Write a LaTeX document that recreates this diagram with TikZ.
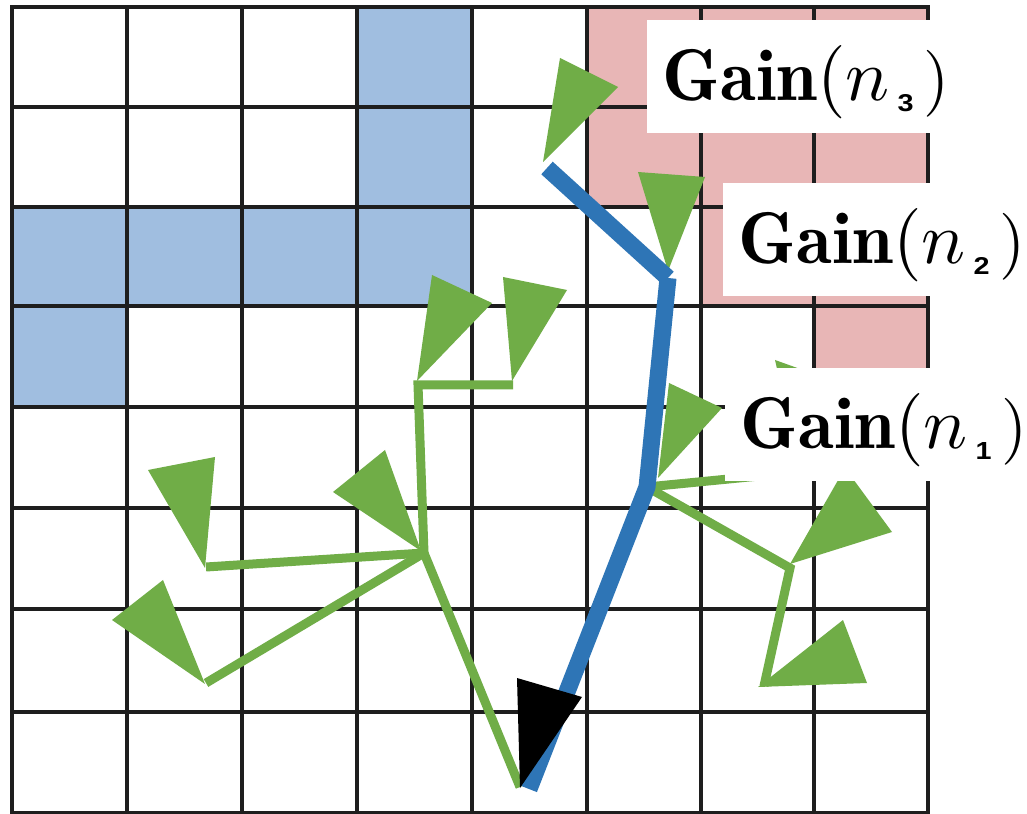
\RequirePackage{fix-cm}
\documentclass[tikz,border=0pt]{standalone}
\usepackage{fontspec}
\usepackage{graphicx}
\newfontfamily\subsansfont{Liberation Sans}
\definecolor{cellblue}{HTML}{A0BEE0}
\definecolor{cellpink}{HTML}{E8B6B6}
\definecolor{treegreen}{HTML}{70AD47}
\definecolor{pathblue}{HTML}{2E75B6}
\definecolor{gridgray}{HTML}{1E1E1E}
\newcommand{\gainlabel}[1]{\makebox[28.8mm][l]{%
  \rlap{\resizebox{22.7mm}{!}{\fontsize{10}{12}\selectfont$\mathbf{Gain}(n$}}%
  \hspace*{23.5mm}\rlap{\raisebox{-1.1mm}{\resizebox{1.6mm}{1.7mm}{\subsansfont\bfseries #1}}}%
  \hspace*{2.6mm}\rlap{\resizebox{2.6mm}{!}{\fontsize{10}{12}\selectfont$)$}}}}
\begin{document}
\begin{tikzpicture}[x=0.1mm,y=-0.1mm,
  gridline/.style={draw=gridgray,line width=0.32mm,line cap=rect},
  greenedge/.style={draw=treegreen,line width=0.9mm,line join=miter},
  greentri/.style={fill=treegreen},
  blueedge/.style={draw=pathblue,line width=1.7mm},
  rootarrow/.style={fill=black},
  gainbox/.style={fill=white,anchor=north west,inner xsep=1.6mm,inner ysep=0pt,
    text height=8.1mm,text depth=3.2mm}]
\useasboundingbox (0,0) rectangle (1027,814);
\fill[white] (0,0) rectangle (1027,814);
% occupied cells
\fill[cellblue] (357,7) rectangle (472,207);
\fill[cellblue] (12,207) rectangle (472,306);
\fill[cellblue] (12,306) rectangle (127,407);
\fill[cellpink] (587,7) rectangle (701,207);
\fill[cellpink] (701,7) rectangle (814,306);
\fill[cellpink] (814,7) rectangle (928,407);
% grid
\foreach \gx in {12,127,242,357,472,587,701,814,928} \draw[gridline] (\gx,7) -- (\gx,813);
\foreach \gy in {7,107,207,306,407,508,609,712,813} \draw[gridline] (12,\gy) -- (928,\gy);
% tree nodes
\coordinate (R) at (520,787);
\coordinate (Rb) at (529,789);
\coordinate (A) at (424,553);
\coordinate (B) at (206,567);
\coordinate (C) at (206,683);
\coordinate (D) at (418,385);
\coordinate (E) at (513,385);
\coordinate (F) at (647,487);
\coordinate (G) at (668,278);
\coordinate (H) at (547,168);
\coordinate (I) at (800,472);
\coordinate (J) at (790,568);
\coordinate (K) at (764,686);
% green tree edges
\draw[greenedge] (R) -- (A);
\draw[greenedge] (A) -- (D) -- (E);
\draw[greenedge] (B) -- (A);
\draw[greenedge] (C) -- (A);
\draw[greenedge] (F) -- (I);
\draw[greenedge] (F) -- (J) -- (K);
% heading triangles
\fill[greentri] (333,492) -- (385,450) -- (421,551) -- cycle;
\fill[greentri] (148,470) -- (215,457) -- (205,568) -- cycle;
\fill[greentri] (112,620) -- (163,580) -- (205,684) -- cycle;
\fill[greentri] (432,275) -- (492,303) -- (417,381) -- cycle;
\fill[greentri] (503,277) -- (567,290) -- (512,381) -- cycle;
\fill[greentri] (669,383) -- (722,408) -- (658,478) -- cycle;
\fill[greentri] (638,172) -- (705,177) -- (668,271) -- cycle;
\fill[greentri] (560,58) -- (618,87) -- (543,162) -- cycle;
\fill[greentri] (775,360) -- (845,385) -- (800,470) -- cycle;
\fill[greentri] (845,468) -- (892,532) -- (790,564) -- cycle;
\fill[greentri] (843,620) -- (867,683) -- (758,687) -- cycle;
% best path
\draw[blueedge] (H) -- (G);
\draw[blueedge,line join=round] (G) -- (F) -- (Rb);
\fill[rootarrow] (517,678) -- (582,697) -- (520,788) -- cycle;
% labels
\node[gainbox] (g3) at (646,19) {\gainlabel{3}};
\node[gainbox] (g2) at (722,182) {\gainlabel{2}};
\node[gainbox] (g1) at (724,367) {\gainlabel{1}};
\end{tikzpicture}
\end{document}
